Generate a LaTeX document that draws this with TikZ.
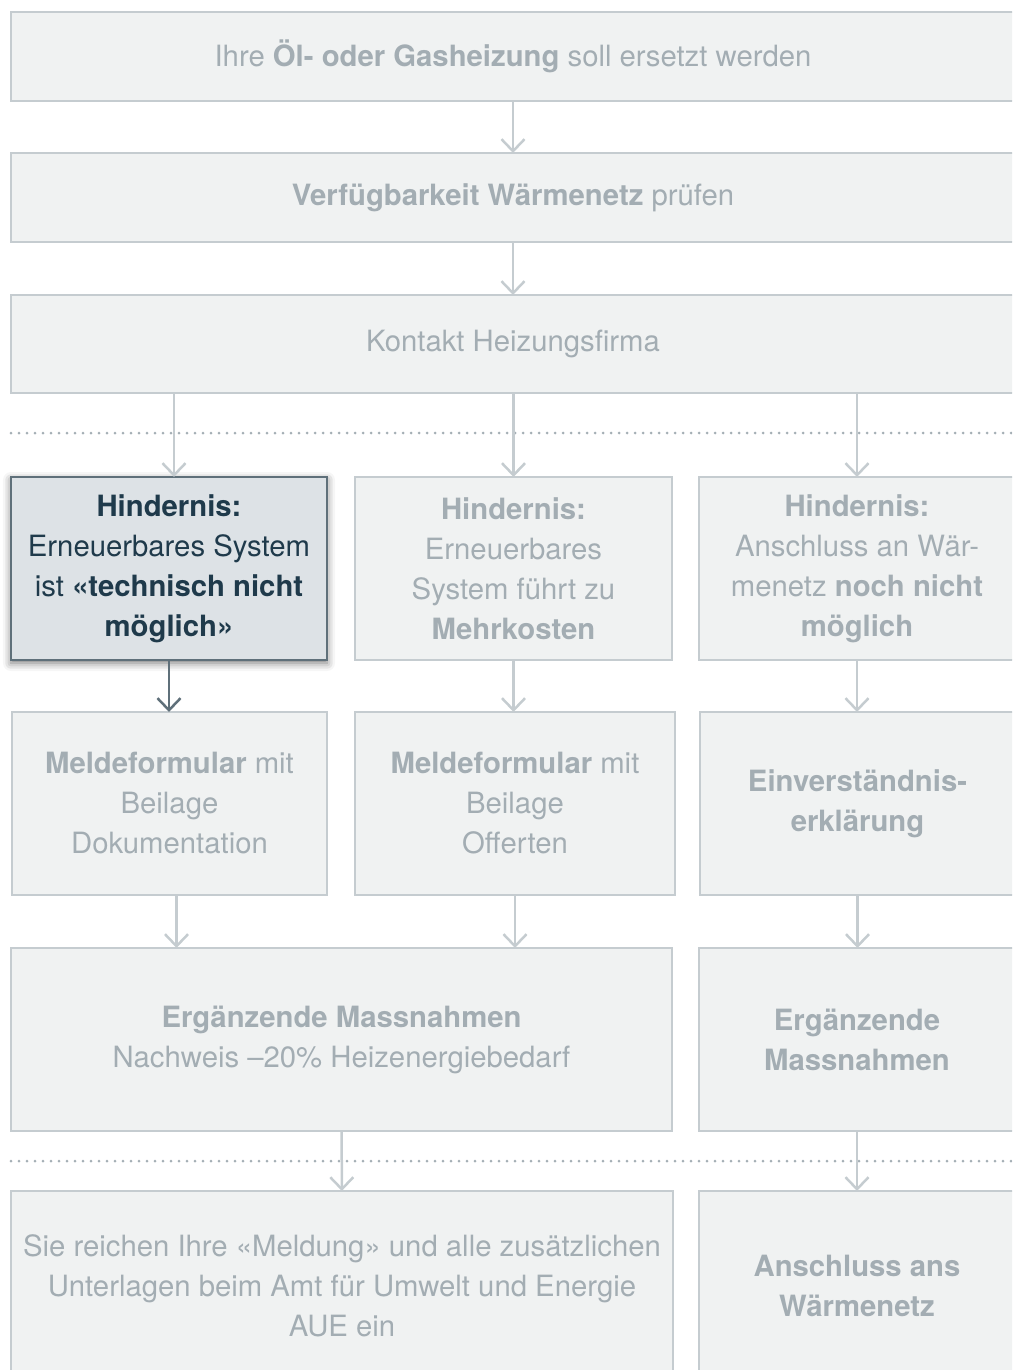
\documentclass[tikz,border=0pt]{standalone}
\usepackage{fontspec}
\setmainfont{TeX Gyre Heros}
\usepackage{xcolor}
\definecolor{boxfill}{HTML}{F0F2F2}
\definecolor{boxline}{HTML}{C5CCD0}
\definecolor{txtgray}{HTML}{A3ADB3}
\definecolor{hotfill}{HTML}{DDE2E6}
\definecolor{hotline}{HTML}{5F707A}
\definecolor{hottext}{HTML}{1F3A4B}
\definecolor{dotgray}{HTML}{A5AFB5}
\usepackage{tikz}
\usetikzlibrary{arrows.meta, shadows.blur}

\begin{document}
\begin{tikzpicture}[
      x=1pt, y=-1pt,
      font=\fontsize{29.3}{40}\selectfont,
      box/.style={rectangle, draw=boxline, fill=boxfill, line width=2.5pt,
                  text=txtgray, align=center, inner sep=0pt, outer sep=0pt},
      hot/.style={box, draw=hotline, fill=hotfill, text=hottext,
                  blur shadow={shadow xshift=0pt, shadow yshift=-3pt,
                               shadow blur radius=8pt, shadow opacity=55}},
      a/.style={-{Straight Barb[length=12pt, width=23pt]}, draw=boxline, line width=2.5pt},
      ah/.style={a, draw=hotline},
      sep/.style={draw=dotgray, line width=3pt, line cap=round, dash pattern=on 0pt off 8pt},
    ]
    \useasboundingbox (0,0) rectangle (1012,1370);
    \clip (0,0) rectangle (1012,1370);

    % separators
    \draw[sep] (11,433) -- (1016,433);
    \draw[sep] (11,1161) -- (1016,1161);

    % top steps
    \node[box, minimum width=1004pt, minimum height=89pt] (start) at (513,56.5)
      {Ihre \textbf{Öl- oder Gasheizung} soll ersetzt werden};
    \node[box, minimum width=1004pt, minimum height=89pt] (netz) at (513,197.5)
      {\textbf{Verfügbarkeit Wärmenetz} prüfen};
    \node[box, minimum width=1004pt, minimum height=98pt] (firma) at (513,344)
      {Kontakt Heizungsfirma};

    % obstacles
    \node[hot, minimum width=316pt, minimum height=183pt] (hA) at (169,568.5)
      {\textbf{Hindernis:}\\Erneuerbares System\\ist \textbf{«technisch nicht}\\\textbf{möglich»}};
    \node[box, minimum width=317pt, minimum height=183pt] (hB) at (513.5,568.5)
      {\textbf{Hindernis:}\\Erneuerbares\\System führt zu\\\textbf{Mehrkosten}};
    \node[box, minimum width=316pt, minimum height=183pt] (hC) at (857,568.5)
      {\textbf{Hindernis:}\\Anschluss an Wär-\\menetz \textbf{noch nicht}\\\textbf{möglich}};

    % forms
    \node[box, minimum width=315pt, minimum height=183pt] (mA) at (169.5,803.5)
      {\textbf{Meldeformular} mit\\Beilage\\Dokumentation};
    \node[box, minimum width=320pt, minimum height=183pt] (mB) at (515,803.5)
      {\textbf{Meldeformular} mit\\Beilage\\Offerten};
    \node[box, minimum width=315pt, minimum height=183pt] (mC) at (857.5,803.5)
      {\textbf{Einverständnis-}\\\textbf{erklärung}};

    % measures
    \node[box, minimum width=661pt, minimum height=183pt] (ergL) at (341.5,1039.5)
      {\textbf{Ergänzende Massnahmen}\\Nachweis –20\% Heizenergiebedarf};
    \node[box, minimum width=316pt, minimum height=183pt] (ergC) at (857,1039.5)
      {\textbf{Ergänzende}\\\textbf{Massnahmen}};

    % end
    \node[box, minimum width=662pt, minimum height=189pt] (amt) at (342,1285.5)
      {Sie reichen Ihre «Meldung» und alle zusätzlichen\\Unterlagen beim Amt für Umwelt und Energie\\AUE ein};
    \node[box, minimum width=316pt, minimum height=189pt] (anschluss) at (857,1285.5)
      {\textbf{Anschluss ans}\\\textbf{Wärmenetz}};

    \draw[a] (start) -- (netz);
    \draw[a] (netz) -- (firma);
    \draw[a] ([xshift=5pt]firma.south -| hA) -- ([xshift=5pt]hA.north);
    \draw[a] (firma.south -| hB) -- (hB.north);
    \draw[a] (firma.south -| hC) -- (hC.north);
    \draw[ah] (hA) -- (hA |- mA.north);
    \draw[a] (hB) -- (hB |- mB.north);
    \draw[a] (hC) -- (hC |- mC.north);
    \draw[a] ([xshift=7pt]mA.south) -- ([xshift=7pt]mA.south |- ergL.north);
    \draw[a] (mB.south) -- (mB.south |- ergL.north);
    \draw[a] (mC) -- (mC |- ergC.north);
    \draw[a] (ergL) -- (amt);
    \draw[a] (ergC) -- (anschluss);
  \end{tikzpicture}
\end{document}
